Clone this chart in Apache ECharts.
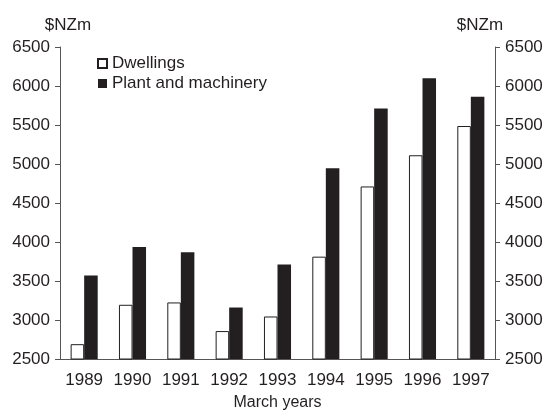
<!DOCTYPE html>
<html>
<head>
<meta charset="utf-8">
<script src="https://cdn.jsdelivr.net/npm/echarts@6/dist/echarts.min.js"></script>
<style>
  html, body { margin: 0; padding: 0; background: #fff; }
  #chart { width: 546px; height: 410px; }
</style>
</head>
<body>
<div id="chart"></div>
<script>
// data
const years = ["1989", "1990", "1991", "1992", "1993", "1994", "1995", "1996", "1997"];
const dwellings = [2690, 3195, 3225, 2858, 3045, 3812, 4712, 5112, 5487];
const plantMachinery = [3570, 3935, 3870, 3160, 3710, 4945, 5710, 6100, 5863];
const yTicks = { min: 2500, max: 6500, step: 500 };

const ink = "#231f20";
const font = "Liberation Sans, Arial, sans-serif";

const chart = echarts.init(document.getElementById("chart"), null, { renderer: "canvas" });

function valueAxis(side, namePad) {
  return {
    type: "value",
    position: side,
    min: yTicks.min,
    max: yTicks.max,
    interval: yTicks.step,
    name: "$NZm",
    nameLocation: "end",
    nameGap: 13,
    nameTextStyle: { color: ink, fontSize: 17, fontFamily: font, padding: namePad },
    axisLine: { show: true, lineStyle: { color: "#555", width: 1 } },
    axisTick: { show: true, length: 5, lineStyle: { color: "#555" } },
    axisLabel: { color: ink, fontSize: 17, fontFamily: font, margin: 10, formatter: (v) => String(v) },
    splitLine: { show: false },
  };
}

chart.setOption({
  animation: false,
  backgroundColor: "#fff",
  grid: { left: 60, right: 51, top: 47, bottom: 51, outerBoundsMode: "none" },
  legend: {
    orient: "vertical",
    left: 92,
    top: 50,
    itemWidth: 9,
    itemHeight: 9,
    itemGap: 3,
    icon: "rect",
    textStyle: { color: ink, fontSize: 17, fontFamily: font, lineHeight: 16 },
    data: ["Dwellings", "Plant and machinery"],
  },
  xAxis: {
    type: "category",
    data: years,
    name: "March years",
    nameLocation: "middle",
    nameGap: 36,
    nameTextStyle: { color: ink, fontSize: 16, fontFamily: font },
    axisLine: { lineStyle: { color: "#555", width: 1 } },
    axisTick: { length: 5, lineStyle: { color: "#555" } },
    axisLabel: { color: ink, fontSize: 17, fontFamily: font, margin: 13, interval: 0 },
  },
  yAxis: [valueAxis("left", [0, 0, 0, 16]), valueAxis("right", [0, 30, 0, 0])],
  series: [
    {
      name: "Dwellings",
      type: "bar",
      data: dwellings,
      barGap: "0%",
      barCategoryGap: "44%",
      itemStyle: { color: "#fff", borderColor: ink, borderWidth: 1 },
    },
    {
      name: "Plant and machinery",
      type: "bar",
      data: plantMachinery,
      barGap: "0%",
      barCategoryGap: "44%",
      itemStyle: { color: ink },
    },
  ],
});
</script>
</body>
</html>
